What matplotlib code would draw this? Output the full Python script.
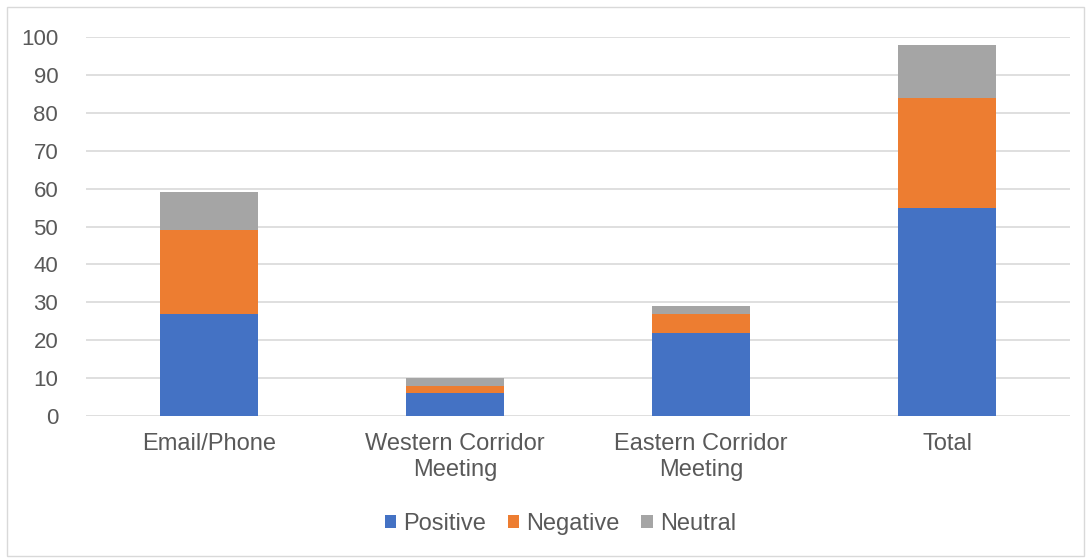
import numpy as np
import matplotlib.pyplot as plt

plt.rcParams['font.family'] = ['Liberation Sans', 'DejaVu Sans']

categories = ["Email/Phone", "Western Corridor\nMeeting", "Eastern Corridor\nMeeting", "Total"]
positive = [27, 6, 22, 55]
negative = [22, 2, 5, 29]
neutral = [10, 2, 2, 14]

fig = plt.figure(figsize=(10.91, 5.59), dpi=100)
ax = fig.add_axes([0.0788, 0.2558, 0.902, 0.678])

x = np.arange(len(categories))
w = 0.4
pos = np.array(positive)
neg = np.array(negative)
neu = np.array(neutral)

ax.bar(x, pos, w, color='#4472C4', label='Positive', zorder=3)
ax.bar(x, neg, w, bottom=pos, color='#ED7D31', label='Negative', zorder=3)
ax.bar(x, neu, w, bottom=pos + neg, color='#A5A5A5', label='Neutral', zorder=3)

ax.set_xlim(-0.5, 3.5)
ax.set_ylim(0, 100)
ax.set_yticks(range(0, 101, 10))
ax.set_xticks(x)
ax.set_xticklabels(categories, linespacing=1.25)
ax.yaxis.grid(True, color='#D9D9D9', linewidth=1.2, zorder=0)
for s in ax.spines.values():
    s.set_visible(False)
ax.tick_params(length=0, colors='#595959')
ax.tick_params(axis='y', pad=20, labelsize=16)
ax.tick_params(axis='x', pad=12, labelsize=17)

ax.legend(loc='upper center', bbox_to_anchor=(0.482, -0.2), ncol=3, frameon=False,
          prop={'size': 17}, labelcolor='#595959', handlelength=0.5, handleheight=0.5,
          handletextpad=0.3, columnspacing=0.9)

# outer border
fig.patches.append(plt.Rectangle((0.006, 0.006), 0.988, 0.982, transform=fig.transFigure,
                                 fill=False, edgecolor='#D9D9D9', linewidth=1))

fig.savefig('out.png', dpi=100)
